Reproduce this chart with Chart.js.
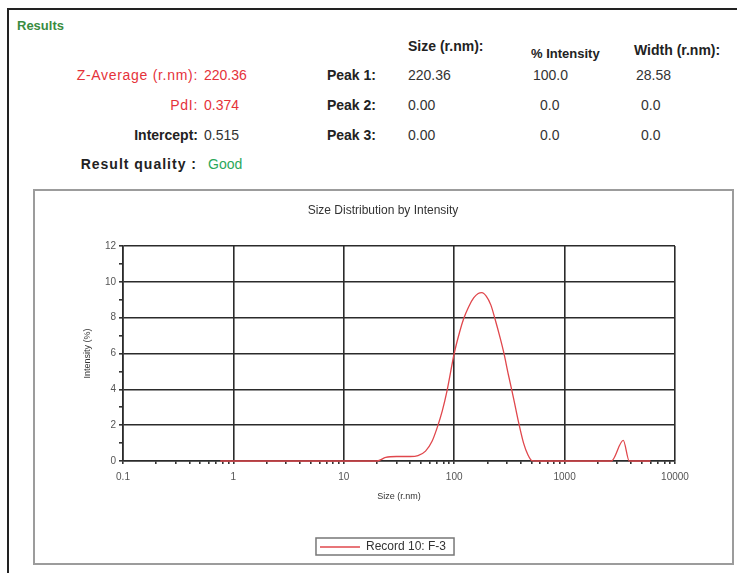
<!DOCTYPE html>
<html>
<head>
<meta charset="utf-8">
<script src="https://cdn.jsdelivr.net/npm/chart.js@4/dist/chart.umd.min.js"></script>
<style>
  body { margin: 0; background: #fff; width: 737px; height: 573px; position: relative; overflow: hidden;
         font-family: 'Liberation Sans', Arial, sans-serif; }
  .frame-top { position: absolute; left: 7px; top: 8px; width: 730px; height: 0; border-top: 2px solid #222; }
  .frame-left { position: absolute; left: 7px; top: 8px; width: 0; height: 565px; border-left: 2px solid #222; }
  .t { position: absolute; white-space: nowrap; font-size: 14px; line-height: 16px; transform: translateY(-50%); color: #333; }
  .b { font-weight: bold; color: #222; }
  .r { color: #e5323a; }
  .g { color: #2aa85a; }
  .box { position: absolute; left: 33px; top: 189px; width: 697px; height: 372px; border: 2px solid #9c9c9c; }
</style>
</head>
<body>
<div class="frame-top"></div>
<div class="frame-left"></div>

<div class="t b" style="left:17px;top:26px;color:#3a8c3f;font-size:13px">Results</div>

<div class="t b" style="left:408px;top:46px">Size (r.nm):</div>
<div class="t b" style="left:531px;top:54px;font-size:13px">% Intensity</div>
<div class="t b" style="left:634px;top:50px">Width (r.nm):</div>

<div class="t r" style="right:539px;top:75px;letter-spacing:0.7px">Z-Average (r.nm):</div>
<div class="t r" style="left:204px;top:75px">220.36</div>
<div class="t r" style="right:539px;top:105px;letter-spacing:0.7px">PdI:</div>
<div class="t r" style="left:204px;top:105px">0.374</div>
<div class="t b" style="right:539px;top:135px">Intercept:</div>
<div class="t" style="left:204px;top:135px">0.515</div>
<div class="t b" style="right:540px;top:164px;letter-spacing:1px">Result quality :</div>
<div class="t g" style="left:208px;top:164px">Good</div>

<div class="t b" style="right:361px;top:75px">Peak 1:</div>
<div class="t b" style="right:361px;top:105px">Peak 2:</div>
<div class="t b" style="right:361px;top:135px">Peak 3:</div>
<div class="t" style="left:408px;top:75px">220.36</div>
<div class="t" style="left:408px;top:105px">0.00</div>
<div class="t" style="left:408px;top:135px">0.00</div>
<div class="t" style="left:533px;top:75px">100.0</div>
<div class="t" style="left:540px;top:105px">0.0</div>
<div class="t" style="left:540px;top:135px">0.0</div>
<div class="t" style="left:636px;top:75px">28.58</div>
<div class="t" style="left:641px;top:105px">0.0</div>
<div class="t" style="left:641px;top:135px">0.0</div>

<div class="box"><canvas id="size_chart" width="697" height="372"></canvas></div>

<script>
// size distribution by intensity
var sizes = [0.76, 1, 2, 5, 10, 15, 20, 24, 30, 40, 47, 55, 63, 70, 78, 86, 100, 112, 122, 135, 150, 165, 178,
             195, 215, 235, 260, 280, 310, 345, 385, 425, 465, 505, 560, 1000, 2000, 2650, 3400, 3850, 5000, 6000];
var intensity = [0, 0, 0, 0, 0, 0, 0, 0.2, 0.25, 0.25, 0.3, 0.55, 1.1, 1.85, 2.8, 3.9, 6.0, 7.2, 7.95, 8.6, 9.1, 9.35, 9.4,
                 9.2, 8.7, 7.9, 6.9, 6.1, 4.8, 3.5, 2.1, 1.0, 0.35, 0.02, 0, 0, 0, 0, 1.15, 0, 0, 0];
var sizeTicks = [0.1, 1, 10, 100, 1000, 10000];
var intensityTicks = [0, 2, 4, 6, 8, 10, 12];
var seriesLabel = 'Record 10: F-3';

var gridDark = '#2b2b2b';
var smallFont = { size: 9, family: "'Liberation Sans', Arial" };
var tickFont = { size: 10, family: "'Liberation Sans', Arial" };

function isDecade(v) {
  var l = Math.log10(v);
  return Math.abs(l - Math.round(l)) < 1e-6;
}

var legendBorder = {
  id: 'legendBorder',
  afterDraw: function(chart) {
    var boxes = chart.legend && chart.legend.legendHitBoxes;
    if (!boxes || !boxes.length) return;
    var hb = boxes[0];
    var ctx = chart.ctx;
    ctx.save();
    ctx.strokeStyle = '#777';
    ctx.lineWidth = 1.5;
    ctx.strokeRect(hb.left - 4, hb.top - 3, hb.width + 12, hb.height + 5);
    ctx.restore();
  }
};

var points = sizes.map(function(s, i) { return { x: s, y: intensity[i] }; });

var ctx = document.getElementById('size_chart').getContext('2d');
var sizeChart = new Chart(ctx, {
  type: 'line',
  data: {
    datasets: [{
      label: seriesLabel,
      data: points,
      borderColor: '#e0474c',
      backgroundColor: '#e0474c',
      borderWidth: 1.3,
      pointRadius: 0,
      cubicInterpolationMode: 'monotone',
      clip: false
    }]
  },
  options: {
    responsive: false,
    animation: false,
    devicePixelRatio: 1,
    layout: { padding: { left: 56, right: 57, top: 0, bottom: 0 } },
    plugins: {
      title: {
        display: true,
        text: 'Size Distribution by Intensity',
        color: '#333',
        font: { size: 12, weight: 'normal', family: "'Liberation Sans', Arial" },
        padding: { top: 12.8, bottom: 27.8 }
      },
      legend: {
        position: 'bottom',
        labels: {
          usePointStyle: true,
          pointStyle: 'line',
          pointStyleWidth: 40,
          color: '#333',
          padding: 8,
          font: { size: 12, family: "'Liberation Sans', Arial" }
        }
      },
      tooltip: { enabled: false }
    },
    scales: {
      x: {
        type: 'logarithmic',
        min: 0.1,
        max: 10000,
        afterBuildTicks: function(scale) {
          var ticks = [];
          sizeTicks.forEach(function(d, i) {
            ticks.push({ value: d });
            if (i < sizeTicks.length - 1) {
              for (var k = 2; k <= 9; k++) ticks.push({ value: d * k });
            }
          });
          scale.ticks = ticks;
        },
        afterFit: function(scale) { scale.height = 72; },
        ticks: {
          autoSkip: false,
          maxRotation: 0,
          padding: 7,
          color: '#555',
          font: tickFont,
          callback: function(v) {
            return sizeTicks.indexOf(v) >= 0 ? String(v) : '';
          }
        },
        grid: {
          color: function(c) { return c.tick && isDecade(c.tick.value) ? gridDark : 'rgba(0,0,0,0)'; },
          tickColor: '#333',
          lineWidth: 1.6,
          tickLength: 3
        },
        border: { color: gridDark, width: 1.6 },
        title: {
          display: true,
          text: 'Size (r.nm)',
          color: '#333',
          font: smallFont,
          padding: { top: 0, bottom: 31 }
        }
      },
      y: {
        min: 0,
        max: 12,
        afterFit: function(scale) { scale.width = 32; },
        ticks: {
          stepSize: 1,
          padding: 3,
          color: '#555',
          font: tickFont,
          callback: function(v) {
            return intensityTicks.indexOf(v) >= 0 ? String(v) : '';
          }
        },
        grid: {
          color: function(c) { return c.tick && intensityTicks.indexOf(c.tick.value) >= 0 ? gridDark : 'rgba(0,0,0,0)'; },
          tickColor: '#333',
          lineWidth: 1.6,
          tickLength: 4
        },
        border: { color: gridDark, width: 1.6 },
        title: {
          display: true,
          text: 'Intensity (%)',
          color: '#333',
          font: smallFont,
          padding: { top: -8.4, bottom: 0 }
        }
      }
    }
  },
  plugins: [legendBorder]
});
</script>
</body>
</html>
